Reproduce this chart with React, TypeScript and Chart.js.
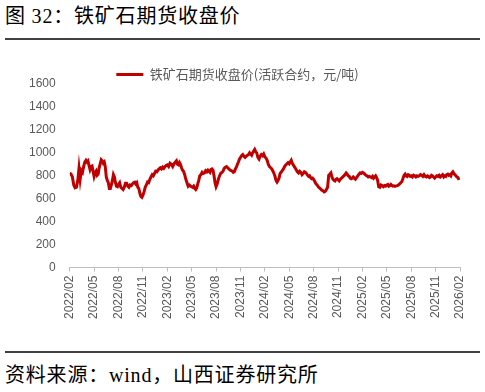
import React, { useEffect, useRef } from "react";
import { Chart, registerables } from "chart.js";

Chart.register(...registerables);

const titleText = "图 32：铁矿石期货收盘价";
const sourceText = "资料来源：wind，山西证券研究所";
const seriesName = "铁矿石期货收盘价(活跃合约，元/吨)";

const monthLabels = [
  "2022/02", "2022/03", "2022/04", "2022/05", "2022/06", "2022/07", "2022/08", "2022/09", "2022/10", "2022/11", "2022/12",
  "2023/01", "2023/02", "2023/03", "2023/04", "2023/05", "2023/06", "2023/07", "2023/08", "2023/09", "2023/10", "2023/11", "2023/12",
  "2024/01", "2024/02", "2024/03", "2024/04", "2024/05", "2024/06", "2024/07", "2024/08", "2024/09", "2024/10", "2024/11", "2024/12",
  "2025/01", "2025/02", "2025/03", "2025/04", "2025/05", "2025/06", "2025/07", "2025/08", "2025/09", "2025/10", "2025/11", "2025/12",
  "2026/01",
];

// closing prices within each month (several readings per month)
const monthlyValues: number[][] = [
  [825, 815, 790, 720, 695, 700],
  [760, 865, 770, 845, 830, 880, 920],
  [935, 920, 930, 890, 855, 880, 885, 840],
  [795, 825, 840, 805, 815, 870, 905, 940],
  [930, 910, 920, 880, 790, 760, 740, 690],
  [690, 720, 760, 810, 790, 740, 710, 705],
  [725, 740, 700, 690, 680, 700, 735],
  [735, 710, 700, 720, 715, 730, 740],
  [745, 730, 740, 700, 690, 650, 620, 612],
  [630, 660, 700, 720, 745, 740, 770],
  [790, 810, 800, 820, 840, 835, 850],
  [860, 870, 860, 875, 865, 880, 890],
  [895, 880, 910, 900, 880, 905],
  [920, 930, 900, 895, 915, 900, 870, 850],
  [840, 810, 770, 740, 710, 720, 710],
  [705, 700, 710, 690, 680, 695, 730, 760],
  [800, 810, 830, 820, 825, 845, 835],
  [850, 840, 830, 855, 860, 850, 800, 740],
  [705, 730, 770, 800, 820, 830, 840],
  [865, 875, 880, 870, 860, 850, 845],
  [840, 830, 835, 860, 875, 900, 920, 945],
  [960, 975, 985, 970, 960, 970, 980],
  [985, 1000, 990, 980, 1000, 1015, 1030, 1010],
  [1000, 960, 945, 970, 985, 975, 990],
  [965, 955, 935, 900, 880, 870, 860],
  [840, 820, 795, 760, 745, 760, 780, 820],
  [830, 845, 860, 880, 895, 905, 915],
  [905, 920, 935, 910, 895, 880, 865, 850],
  [835, 825, 840, 830, 810, 820, 835],
  [830, 820, 805, 795, 800, 785, 775, 780],
  [770, 750, 730, 720, 705, 695, 685],
  [675, 670, 660, 665, 680, 700, 805],
  [815, 825, 790, 770, 760, 755, 770, 775],
  [765, 755, 770, 780, 790, 800, 810],
  [825, 815, 800, 795, 780, 775, 780, 790],
  [780, 770, 785, 800, 815, 825, 820],
  [830, 825, 815, 805, 800, 790, 795],
  [790, 785, 795, 780, 790, 800, 785, 760],
  [705, 700, 720, 715, 705, 715, 710],
  [720, 725, 710, 715, 725, 715, 710, 712],
  [708, 712, 715, 720, 730, 740, 750],
  [780, 805, 815, 800, 795, 810, 805, 795],
  [800, 790, 805, 800, 790, 800, 795],
  [800, 810, 805, 795, 810, 795, 790],
  [800, 795, 785, 790, 805, 800, 790, 780],
  [790, 800, 795, 805, 790, 800, 810],
  [790, 800, 795, 810, 815, 805, 810, 800],
  [825, 835, 820, 810, 800, 790, 785, 765],
];

const tickLabels = [
  "2022/02", "2022/05", "2022/08", "2022/11", "2023/02", "2023/05", "2023/08", "2023/11",
  "2024/02", "2024/05", "2024/08", "2024/11", "2025/02", "2025/05", "2025/08", "2025/11", "2026/02",
];

const yMin = 0;
const yMax = 1600;
const yStep = 200;

const RED = "#C00000";
const GRAY_TEXT = "#595959";
const AXIS = "#BFBFBF";
const TEXT_FONT = '"Liberation Serif", "Noto Sans CJK SC", serif';
const TICK_FONT = '"Liberation Sans", Arial, sans-serif';

export default function App() {
  const canvasRef = useRef<HTMLCanvasElement | null>(null);

  useEffect(() => {
    const canvas = canvasRef.current;
    if (!canvas) return;
    const points = monthlyValues.flatMap((vals, i) =>
      vals.map((v, j) => ({ x: i + j / vals.length, y: v }))
    );
    const chart = new Chart(canvas, {
      type: "line",
      data: {
        datasets: [
          {
            label: seriesName,
            data: points,
            borderColor: RED,
            backgroundColor: RED,
            borderWidth: 3,
            pointRadius: 0,
            pointStyle: "line",
            tension: 0,
            fill: false,
          },
        ],
      },
      options: {
        animation: false,
        responsive: false,
        maintainAspectRatio: false,
        devicePixelRatio: 1,
        layout: { padding: { left: 15, right: 25, top: 8, bottom: 7 } },
        plugins: {
          legend: {
            display: true,
            position: "top",
            maxHeight: 26,
            labels: {
              usePointStyle: true,
              pointStyle: "line",
              pointStyleWidth: 27,
              boxHeight: 13,
              padding: 10,
              color: GRAY_TEXT,
              font: { size: 13, family: '"Noto Sans CJK SC", sans-serif' },
            },
          },
          tooltip: { enabled: false },
        },
        scales: {
          x: {
            type: "linear",
            min: 0,
            max: monthLabels.length,
            grid: {
              display: true,
              drawOnChartArea: false,
              drawTicks: true,
              tickLength: 4,
              color: AXIS,
            },
            border: { display: true, color: AXIS, width: 1 },
            ticks: {
              stepSize: 3,
              autoSkip: false,
              maxRotation: 90,
              minRotation: 90,
              padding: 4,
              color: GRAY_TEXT,
              font: { size: 12, family: TICK_FONT },
              callback: (v: any) => tickLabels[Math.round(Number(v) / 3)] ?? "",
            },
          },
          y: {
            min: yMin,
            max: yMax,
            grid: { display: false, drawTicks: false },
            border: { display: false },
            ticks: {
              stepSize: yStep,
              padding: 14,
              color: GRAY_TEXT,
              font: { size: 12, family: TICK_FONT },
              callback: (v: any) => String(v),
            },
          },
        },
      },
    } as any);
    return () => chart.destroy();
  }, []);

  return (
    <div
      style={{
        position: "fixed",
        left: 0,
        top: 0,
        width: 485,
        height: 392,
        background: "#fff",
        overflow: "hidden",
      }}
    >
      <div
        style={{
          position: "absolute",
          left: 5,
          top: 6,
          fontFamily: TEXT_FONT,
          fontSize: 20,
          lineHeight: "20px",
          letterSpacing: "0.8px",
          color: "#000",
          whiteSpace: "nowrap",
        }}
      >
        {titleText}
      </div>
      <div
        style={{
          position: "absolute",
          left: 5,
          top: 38,
          width: 475,
          height: 2,
          background: "#404040",
        }}
      />
      <canvas
        ref={canvasRef}
        width={485}
        height={280}
        style={{ position: "absolute", left: 0, top: 50, width: 485, height: 280 }}
      />
      <div
        style={{
          position: "absolute",
          left: 5,
          top: 351,
          width: 475,
          height: 2,
          background: "#404040",
        }}
      />
      <div
        style={{
          position: "absolute",
          left: 5,
          top: 365,
          fontFamily: TEXT_FONT,
          fontSize: 20,
          lineHeight: "20px",
          letterSpacing: "0.8px",
          color: "#000",
          whiteSpace: "nowrap",
        }}
      >
        {sourceText}
      </div>
    </div>
  );
}
